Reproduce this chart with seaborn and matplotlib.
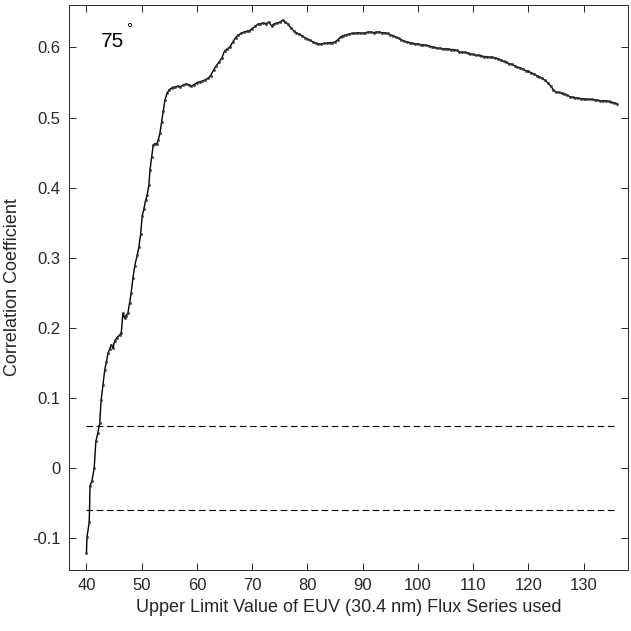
import numpy as np
import pandas as pd
import matplotlib
matplotlib.use("Agg")
import matplotlib.pyplot as plt
import seaborn as sns

# ---- data ----
x_rise = [40.0, 40.1, 40.5, 40.65, 41.0, 41.4, 41.7, 42.05, 42.4, 42.65, 43.0,
          43.3, 43.6, 43.9, 44.2, 44.5, 44.8, 45.1, 45.5, 46.0, 46.3, 46.6,
          46.9, 47.1, 47.5, 47.8, 48.1, 48.4, 48.75, 49.2, 49.5, 49.8, 50.1,
          50.4, 50.7, 51.0, 51.3, 51.5, 51.8, 52.1, 52.4, 52.7, 53.0, 53.3,
          53.6, 53.9, 54.2, 54.6, 55.0, 55.4, 55.7]
corr_rise = [-0.121, -0.098, -0.077, -0.025, -0.018, 0.000, 0.038, 0.050, 0.064,
             0.097, 0.119, 0.140, 0.151, 0.164, 0.170, 0.176, 0.171, 0.181,
             0.186, 0.190, 0.193, 0.221, 0.214, 0.217, 0.221, 0.236, 0.250,
             0.271, 0.289, 0.304, 0.316, 0.334, 0.360, 0.370, 0.382, 0.390,
             0.404, 0.425, 0.444, 0.461, 0.463, 0.462, 0.468, 0.478, 0.494,
             0.509, 0.525, 0.535, 0.540, 0.542, 0.543]

# values every 0.5 from 56 to 136
corr_main = [
    0.543, 0.545, 0.544, 0.546, 0.548, 0.547, 0.545, 0.547, 0.550, 0.551,  # 56-60.5
    0.552, 0.554, 0.556, 0.560, 0.568, 0.574, 0.579, 0.585, 0.595, 0.598,  # 61-65.5
    0.601, 0.608, 0.614, 0.618, 0.620, 0.622, 0.623, 0.624, 0.627, 0.630,  # 66-70.5
    0.633, 0.634, 0.635, 0.634, 0.636, 0.631, 0.634, 0.635, 0.636, 0.639,  # 71-75.5
    0.636, 0.633, 0.628, 0.624, 0.621, 0.619, 0.617, 0.614, 0.612, 0.610,  # 76-80.5
    0.608, 0.606, 0.605, 0.605, 0.606, 0.606, 0.607, 0.607, 0.608, 0.611,  # 81-85.5
    0.615, 0.617, 0.618, 0.619, 0.620, 0.620, 0.621, 0.621, 0.620, 0.621,  # 86-90.5
    0.622, 0.622, 0.621, 0.622, 0.622, 0.621, 0.621, 0.620, 0.618, 0.617,  # 91-95.5
    0.615, 0.613, 0.611, 0.609, 0.608, 0.607, 0.606, 0.605, 0.605, 0.604,  # 96-100.5
    0.604, 0.603, 0.602, 0.601, 0.600, 0.599, 0.599, 0.598, 0.598, 0.598,  # 101-105.5
    0.597, 0.597, 0.596, 0.594, 0.593, 0.593, 0.592, 0.591, 0.590, 0.589,  # 106-110.5
    0.589, 0.588, 0.587, 0.587, 0.586, 0.586, 0.585, 0.584, 0.582, 0.580,  # 111-115.5
    0.579, 0.577, 0.576, 0.574, 0.572, 0.571, 0.569, 0.567, 0.566, 0.564,  # 116-120.5
    0.562, 0.560, 0.558, 0.556, 0.553, 0.550, 0.545, 0.540, 0.536, 0.536,  # 121-125.5
    0.535, 0.534, 0.532, 0.530, 0.529, 0.528, 0.528, 0.527, 0.527, 0.526,  # 126-130.5
    0.526, 0.526, 0.525, 0.525, 0.524, 0.524, 0.524, 0.523, 0.522, 0.521,  # 131-135.5
    0.520,                                                                  # 136
]
x_main = list(56.0 + 0.5 * np.arange(len(corr_main)))

threshold_levels = [0.06, -0.06]
x_ticks = [40, 50, 60, 70, 80, 90, 100, 110, 120, 130]
y_ticks = [-0.1, 0, 0.1, 0.2, 0.3, 0.4, 0.5, 0.6]
y_ticklabels = ["-0.1", "0", "0.1", "0.2", "0.3", "0.4", "0.5", "0.6"]
angle_label = "75"
angle_sup = "\u00b0"

df = pd.DataFrame({"x": x_rise + x_main, "corr": corr_rise + corr_main})

# ---- style ----
sns.set_theme(style="white")
plt.rcParams["font.family"] = ["Liberation Sans", "DejaVu Sans"]

fig = plt.figure(figsize=(6.31, 6.31), dpi=100)
ax = fig.add_axes([0.109, 0.097, 0.886, 0.895])

ink = "#262626"

sns.lineplot(data=df, x="x", y="corr", ax=ax, color="black", linewidth=1.0,
             marker=".", markersize=3.4, markeredgewidth=0.3,
             markeredgecolor="#333333", markerfacecolor="#333333",
             estimator=None, sort=False)

x0, x1 = df["x"].iloc[0], df["x"].iloc[-1]
for lvl in threshold_levels:
    ax.plot([x0, x1], [lvl, lvl], color="black", linewidth=0.8,
            linestyle=(0, (6, 3.2)))

ax.set_xlim(36.8, 138.0)
ax.set_ylim(-0.145, 0.6605)
ax.set_xticks(x_ticks)
ax.set_xticklabels([str(t) for t in x_ticks])
ax.set_yticks(y_ticks)
ax.set_yticklabels(y_ticklabels)

ax.tick_params(direction="in", length=5, width=0.7, colors=ink,
               labelsize=12, top=True, right=True, bottom=True, left=True,
               labelcolor=ink, pad=6)
for s in ax.spines.values():
    s.set_visible(True)
    s.set_color(ink)
    s.set_linewidth(0.7)

ax.set_xlabel("Upper Limit Value of EUV (30.4 nm) Flux Series used",
              fontsize=13, color=ink, labelpad=4)
ax.set_ylabel("Correlation Coefficient", fontsize=13, color=ink, labelpad=8)

ax.text(42.7, 0.600, angle_label, fontsize=15, color="black",
        ha="left", va="baseline")
ax.text(47.1, 0.621, angle_sup, fontsize=11, color="black",
        ha="left", va="baseline")

fig.savefig("out.png", dpi=100)
